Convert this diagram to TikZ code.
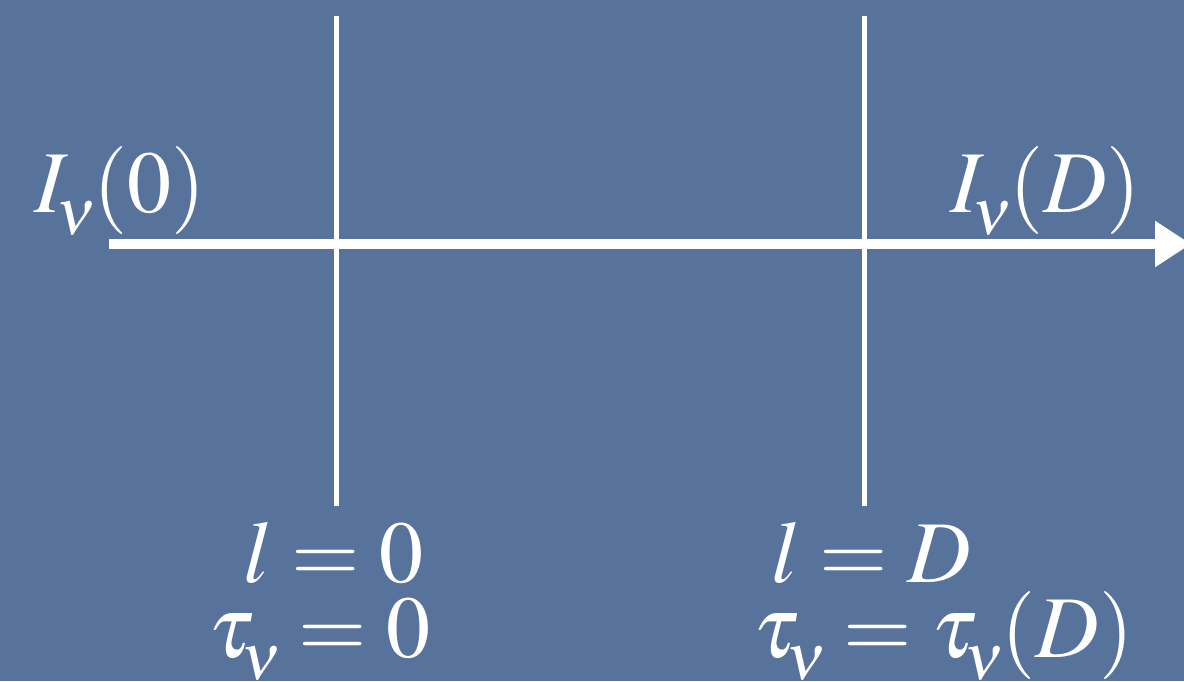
\documentclass[tikz,border=0pt]{standalone}
\usepackage{mathptmx}
\usepackage{tikz}
\usetikzlibrary{arrows.meta}
\definecolor{slabblue}{RGB}{87, 114, 155}
\newcommand{\nusub}{_{\kern-5pt\lower9pt\hbox{$\scriptstyle\nu$}\kern-3pt}}

\begin{document}
\begin{tikzpicture}[x=1pt, y=-1pt,
    boundary/.style={draw=white, line width=5pt},
    ray/.style={draw=white, line width=10pt, -{Triangle[length=36pt, width=44pt]}},
    lab/.style={text=white, anchor=base west, inner sep=0pt,
                font=\fontsize{88}{76}\selectfont}
]
\fill[slabblue] (0,0) rectangle (1184,681);
\useasboundingbox (0,0) rectangle (1184,681);
% the two faces of the slab
\coordinate (front top) at (336,16);
\coordinate (front bot) at (336,506);
\coordinate (back top) at (864,16);
\coordinate (back bot) at (864,506);
\draw[boundary] (front top) -- (front bot);
\draw[boundary] (back top) -- (back bot);
% the ray
\coordinate (ray in) at (109,244);
\coordinate (ray out) at (1191,244);
\draw[ray] (ray in) -- (ray out);
% labels
\node[lab] (Iin) at (34,212) {$I\nusub(0)$};
\node[lab] (Iout) at (950,212) {$I\nusub(D)$};
\node[lab] (lfront) at (243,582) {$l=0$};
\node[lab] (taufront) at (208,657) {$\tau\nusub=0$};
\node[lab] (lback) at (771,582) {$l=D$};
\node[lab] (tauback) at (753,657) {$\tau\nusub=\tau\nusub(D)$};
\end{tikzpicture}
\end{document}
